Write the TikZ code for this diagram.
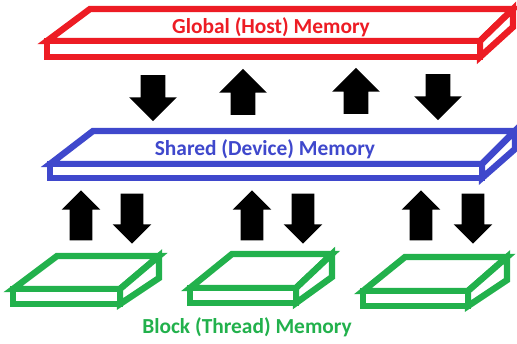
\documentclass[tikz,border=0pt]{standalone}
\usepackage{fontspec}
\setmainfont{Carlito}
\usetikzlibrary{shapes.arrows}

\definecolor{hostred}{HTML}{ED1C24}
\definecolor{deviceblue}{HTML}{3F48CC}
\definecolor{blockgreen}{HTML}{22B14C}

\begin{document}
\begin{tikzpicture}[x=0.5pt,y=-0.5pt]
        % Define styles
        \tikzset{
            slab/.style={line width=3.2pt, fill=white, line join=miter},
            label/.style={font=\fontsize{10.7}{12}\selectfont\bfseries, inner sep=0pt},
            bigarrow/.style={single arrow, fill=black, inner sep=6pt, single arrow head extend=5.75pt, minimum height=23pt},
            smallarrow/.style={single arrow, fill=black, inner sep=5.5pt, single arrow head extend=4pt, minimum height=25pt},
            up/.style={rotate=90},
            down/.style={rotate=-90}
        }
        \useasboundingbox (0,0) rectangle (517,343);

        % Global (host) slab
        \draw[slab, draw=hostred] (47,41) -- (90,9) -- (513,9) -- (480,41) -- cycle;
        \draw[slab, draw=hostred] (480,41) -- (513,9) -- (513,27) -- (480,57) -- cycle;
        \draw[slab, draw=hostred] (47,41) rectangle (480,57);
        \node[label, text=hostred] (host_label) at (271,27) {Global (Host) Memory};

        % Shared (device) slab
        \draw[slab, draw=deviceblue] (50,164) -- (93,131) -- (515,131) -- (482,164) -- cycle;
        \draw[slab, draw=deviceblue] (482,164) -- (515,131) -- (515,149) -- (482,178) -- cycle;
        \draw[slab, draw=deviceblue] (50,164) rectangle (482,178);
        \node[label, text=deviceblue] (device_label) at (265,149) {Shared (Device) Memory};

        % Block (thread) slabs
        \draw[slab, draw=blockgreen] (13,289) -- (57,256) -- (159,256) -- (120,289) -- cycle;
        \draw[slab, draw=blockgreen] (120,289) -- (159,256) -- (159,278) -- (120,304) -- cycle;
        \draw[slab, draw=blockgreen] (13,289) rectangle (120,304);

        \draw[slab, draw=blockgreen] (190,288) -- (232,254) -- (332,254) -- (296,288) -- cycle;
        \draw[slab, draw=blockgreen] (296,288) -- (332,254) -- (332,277) -- (296,303) -- cycle;
        \draw[slab, draw=blockgreen] (190,288) rectangle (296,303);

        \draw[slab, draw=blockgreen] (363,291) -- (405,257) -- (507,257) -- (468,291) -- cycle;
        \draw[slab, draw=blockgreen] (468,291) -- (507,257) -- (507,280) -- (468,306) -- cycle;
        \draw[slab, draw=blockgreen] (363,291) rectangle (468,306);
        \node[label, text=blockgreen] (block_label) at (247,327) {Block (Thread) Memory};

        % Arrows between host and device
        \node[bigarrow, down] (host_down_1) at (153,92) {};
        \node[bigarrow, up] (host_up_1) at (243,98) {};
        \node[bigarrow, up] (host_up_2) at (356,97) {};
        \node[bigarrow, down] (host_down_2) at (438,91) {};

        % Arrows between device and blocks
        \node[smallarrow, up] (block_up_1) at (81,221) {};
        \node[smallarrow, down] (block_down_1) at (132,213) {};
        \node[smallarrow, up] (block_up_2) at (252,221) {};
        \node[smallarrow, down] (block_down_2) at (303,213) {};
        \node[smallarrow, up] (block_up_3) at (421,221) {};
        \node[smallarrow, down] (block_down_3) at (473,213) {};
    \end{tikzpicture}
\end{document}
